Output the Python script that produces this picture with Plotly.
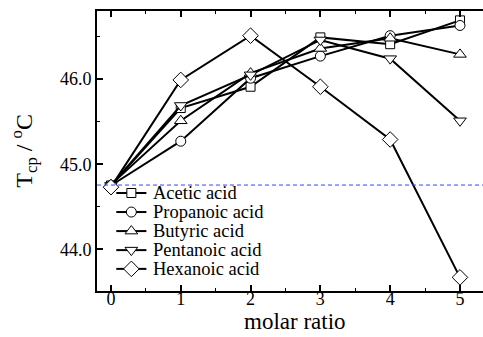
import plotly.graph_objects as go

molar_ratio = [0, 1, 2, 3, 4, 5]
acetic = [44.75, 45.66, 45.91, 46.49, 46.41, 46.69]
propanoic = [44.75, 45.27, 46.01, 46.27, 46.51, 46.63]
butyric = [44.76, 45.51, 46.07, 46.36, 46.48, 46.29]
pentanoic = [44.75, 45.69, 46.05, 46.46, 46.24, 45.51]
hexanoic = [44.73, 45.99, 46.51, 45.91, 45.29, 43.67]
baseline = 44.755

names = ["Acetic acid", "Propanoic acid", "Butyric acid", "Pentanoic acid", "Hexanoic acid"]
values = [acetic, propanoic, butyric, pentanoic, hexanoic]
symbols = ["square", "circle", "triangle-up", "triangle-down", "diamond"]
sizes = [9, 10, 11, 11, 12]

FONT = "Liberation Serif"

fig = go.Figure()
for name, vals, sym, size in zip(names, values, symbols, sizes):
    fig.add_trace(go.Scatter(
        x=molar_ratio, y=vals, name=name, mode="lines+markers",
        line=dict(color="black", width=2),
        marker=dict(symbol=sym, size=size, color="white",
                    line=dict(color="black", width=1)),
        showlegend=False,
    ))

# hand-built legend on an overlay axis spanning the plot area (0..1)
row_y = [0.35, 0.282, 0.214, 0.146, 0.079]
key_x0, key_x1, key_xm, text_x = 0.05, 0.128, 0.089, 0.14
for name, sym, size, ry in zip(names, symbols, sizes, row_y):
    fig.add_trace(go.Scatter(
        x=[key_x0, key_x1], y=[ry, ry], mode="lines",
        line=dict(color="black", width=2), xaxis="x2", yaxis="y2",
        showlegend=False, hoverinfo="skip",
    ))
    fig.add_trace(go.Scatter(
        x=[key_xm], y=[ry], mode="markers",
        marker=dict(symbol=sym, size=size, color="white",
                    line=dict(color="black", width=1)),
        xaxis="x2", yaxis="y2", showlegend=False, hoverinfo="skip",
    ))
    fig.add_annotation(x=text_x, y=ry, xref="x2", yref="y2", text=name,
                       showarrow=False, xanchor="left", yanchor="middle",
                       font=dict(family=FONT, size=18.5, color="black"))

# reference temperature of the pure system
fig.add_shape(type="line", xref="paper", x0=0, x1=1, yref="y",
              y0=baseline, y1=baseline,
              line=dict(color="#3344ff", width=1, dash="4px,3px"))

# axis titles
fig.add_annotation(x=-0.19, y=0.5, xref="paper", yref="paper",
                   text="T<sub>cp</sub> / <sup>o</sup>C", textangle=-90,
                   showarrow=False, xanchor="center", yanchor="middle",
                   font=dict(family=FONT, size=24, color="black"))
fig.add_annotation(x=0.513, y=-0.108, xref="paper", yref="paper",
                   text="molar ratio", showarrow=False,
                   xanchor="center", yanchor="middle",
                   font=dict(family=FONT, size=23, color="black"))

axis_common = dict(
    showline=True, linecolor="black", linewidth=2,
    ticks="inside", ticklen=6, tickwidth=1.5, tickcolor="black",
    showgrid=False, zeroline=False,
    tickfont=dict(family=FONT, size=18, color="black"),
)
minor_common = dict(dtick=0.5, ticks="inside", ticklen=3, tickwidth=1, tickcolor="black")

fig.update_layout(
    width=483, height=337,
    margin=dict(l=97, r=0, t=11, b=46),
    paper_bgcolor="white", plot_bgcolor="white",
    font=dict(family=FONT, color="black"),
    showlegend=False,
    xaxis=dict(range=[-0.2, 5.33], tickvals=molar_ratio, mirror="allticks",
               minor=minor_common, ticklabelstandoff=-10,
               **axis_common),
    yaxis=dict(range=[43.51, 46.8], tickvals=[44.0, 45.0, 46.0],
               ticktext=["44.0", "45.0", "46.0"], mirror=False,
               minor=dict(tick0=44.0, **minor_common),
               **axis_common),
    xaxis2=dict(range=[0, 1], overlaying="x", visible=False, fixedrange=True),
    yaxis2=dict(range=[0, 1], overlaying="y", visible=False, fixedrange=True),
)

fig.write_html("out.html")
